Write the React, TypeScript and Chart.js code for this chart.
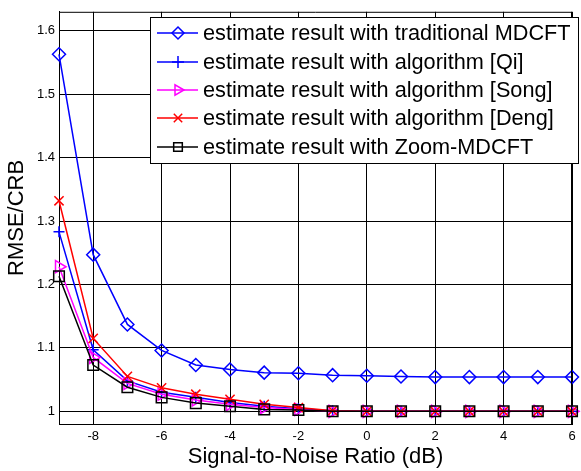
import React, { useEffect, useRef } from 'react';
import { Chart, registerables } from 'chart.js';

Chart.register(...registerables);

const snr = [-9, -8, -7, -6, -5, -4, -3, -2, -1, 0, 1, 2, 3, 4, 5, 6];
const traditional = [1.563, 1.247, 1.137, 1.096, 1.073, 1.066, 1.061, 1.06, 1.057, 1.056, 1.055, 1.054, 1.054, 1.054, 1.054, 1.054];
const qi = [1.283, 1.097, 1.048, 1.03, 1.022, 1.014, 1.008, 1.004, 1.001, 1.0, 1.0, 1.0, 1.0, 1.0, 1.0, 1.0];
const song = [1.228, 1.085, 1.044, 1.027, 1.018, 1.011, 1.006, 1.003, 1.0, 1.0, 1.0, 1.0, 1.0, 1.0, 1.0, 1.0];
const deng = [1.332, 1.115, 1.055, 1.037, 1.027, 1.019, 1.011, 1.006, 1.001, 1.0, 1.0, 1.0, 1.0, 1.0, 1.0, 1.0];
const zoomMdcft = [1.213, 1.073, 1.038, 1.022, 1.013, 1.008, 1.003, 1.002, 1.0, 1.0, 1.0, 1.0, 1.0, 1.0, 1.0, 1.0];

const xTicks = [-8, -6, -4, -2, 0, 2, 4, 6];
const yTicks = [1, 1.1, 1.2, 1.3, 1.4, 1.5, 1.6];

const seriesNames = [
  'estimate result with traditional MDCFT',
  'estimate result with algorithm [Qi]',
  'estimate result with algorithm [Song]',
  'estimate result with algorithm [Deng]',
  'estimate result with Zoom-MDCFT',
];
const seriesColors = ['#0000ff', '#0000ff', '#ff00ff', '#ff0000', '#000000'];
const seriesMarkers = ['diamond', 'plus', 'triangle', 'x', 'square'];

const FONT = 'Arial, "Liberation Sans", sans-serif';

function drawMarker(ctx: CanvasRenderingContext2D, kind: string, x: number, y: number, r: number) {
  ctx.beginPath();
  if (kind === 'diamond') {
    ctx.moveTo(x, y - r);
    ctx.lineTo(x + r, y);
    ctx.lineTo(x, y + r);
    ctx.lineTo(x - r, y);
    ctx.closePath();
  } else if (kind === 'plus') {
    ctx.moveTo(x - r, y);
    ctx.lineTo(x + r, y);
    ctx.moveTo(x, y - r);
    ctx.lineTo(x, y + r);
  } else if (kind === 'triangle') {
    ctx.moveTo(x + r, y);
    ctx.lineTo(x - r * 0.5, y - r * 0.87);
    ctx.lineTo(x - r * 0.5, y + r * 0.87);
    ctx.closePath();
  } else if (kind === 'x') {
    const d = r * 0.7;
    ctx.moveTo(x - d, y - d);
    ctx.lineTo(x + d, y + d);
    ctx.moveTo(x - d, y + d);
    ctx.lineTo(x + d, y - d);
  } else if (kind === 'square') {
    ctx.rect(x - r * 0.72, y - r * 0.72, r * 1.44, r * 1.44);
  }
  ctx.stroke();
}

const framePlugin = {
  id: 'frameAndLegend',
  afterDraw(chart: any) {
    const { ctx, chartArea } = chart;
    const { left, right, top, bottom } = chartArea;
    ctx.save();
    ctx.strokeStyle = '#000';
    ctx.lineWidth = 1;
    ctx.beginPath();
    ctx.moveTo(left, top + 0.5);
    ctx.lineTo(right, top + 0.5);
    ctx.moveTo(right - 0.5, top);
    ctx.lineTo(right - 0.5, bottom);
    ctx.stroke();

    // legend box
    const bx = 150.5, by = 17.5, bw = 428, bh = 146;
    ctx.fillStyle = '#fff';
    ctx.fillRect(bx, by, bw, bh);
    ctx.strokeRect(bx, by, bw, bh);
    const rowY = [33, 62, 90, 118, 147];
    ctx.font = `21.7px ${FONT}`;
    ctx.textBaseline = 'middle';
    ctx.textAlign = 'left';
    for (let i = 0; i < seriesNames.length; i++) {
      const y = rowY[i];
      ctx.strokeStyle = seriesColors[i];
      ctx.lineWidth = 1.5;
      ctx.beginPath();
      ctx.moveTo(157, y);
      ctx.lineTo(198, y);
      ctx.stroke();
      drawMarker(ctx, seriesMarkers[i], 178, y, 6);
      ctx.fillStyle = '#000';
      ctx.fillText(seriesNames[i], 203, y + 1);
    }
    ctx.restore();
  },
};

export default function App() {
  const ref = useRef<HTMLCanvasElement | null>(null);

  useEffect(() => {
    document.body.style.margin = '0';
    const canvas = ref.current;
    if (!canvas) return;
    const mk = (values: number[]) => snr.map((x, i) => ({ x, y: values[i] }));
    const common = {
      borderWidth: 1.5,
      pointBorderWidth: 1.5,
      backgroundColor: 'transparent',
      pointBackgroundColor: 'transparent',
      fill: false,
      tension: 0,
      clip: false as any,
    };
    const chart = new Chart(canvas, {
      type: 'line',
      data: {
        datasets: [
          { ...common, label: seriesNames[0], data: mk(traditional), borderColor: seriesColors[0], pointBorderColor: seriesColors[0], pointStyle: 'rectRot', pointRadius: 6.5, order: 5 },
          { ...common, label: seriesNames[1], data: mk(qi), borderColor: seriesColors[1], pointBorderColor: seriesColors[1], pointStyle: 'cross', pointRadius: 5.5, order: 4 },
          { ...common, label: seriesNames[2], data: mk(song), borderColor: seriesColors[2], pointBorderColor: seriesColors[2], pointStyle: 'triangle', pointRotation: 90, pointRadius: 7, order: 3 },
          { ...common, label: seriesNames[3], data: mk(deng), borderColor: seriesColors[3], pointBorderColor: seriesColors[3], pointStyle: 'crossRot', pointRadius: 6.5, order: 2 },
          { ...common, label: seriesNames[4], data: mk(zoomMdcft), borderColor: seriesColors[4], pointBorderColor: seriesColors[4], pointStyle: 'rect', pointRadius: 7.5, order: 1 },
        ] as any,
      },
      options: {
        responsive: false,
        animation: false,
        layout: { padding: { left: 0, top: 10, right: 3, bottom: 0 } },
        plugins: { legend: { display: false }, tooltip: { enabled: false } },
        scales: {
          x: {
            type: 'linear',
            min: -9,
            max: 6,
            afterBuildTicks: (s: any) => { s.ticks = xTicks.map((v) => ({ value: v })); },
            afterFit: (s: any) => { s.height = 47; },
            grid: { color: '#000', lineWidth: 1, drawTicks: false },
            border: { color: '#000', width: 1 },
            ticks: { color: '#000', font: { family: FONT, size: 13 }, padding: 5, maxRotation: 0, autoSkip: false, callback: (v: any) => String(v) },
            title: { display: true, text: 'Signal-to-Noise Ratio (dB)', color: '#000', font: { family: FONT, size: 22 }, padding: { top: 1, bottom: 1 } },
          },
          y: {
            type: 'linear',
            min: 0.98,
            max: 1.63,
            afterBuildTicks: (s: any) => { s.ticks = yTicks.map((v) => ({ value: v })); },
            afterFit: (s: any) => { s.width = 59; },
            grid: { color: '#000', lineWidth: 1, drawTicks: false },
            border: { color: '#000', width: 1 },
            ticks: { color: '#000', font: { family: FONT, size: 13 }, padding: 4, callback: (v: any) => String(Math.round(v * 10) / 10) },
            title: { display: true, text: 'RMSE/CRB', color: '#000', font: { family: FONT, size: 22 }, padding: { top: 4, bottom: 4 } },
          },
        },
      } as any,
      plugins: [framePlugin],
    });
    return () => chart.destroy();
  }, []);

  return (
    <div style={{ width: 581, height: 471 }}>
      <canvas ref={ref} width={581} height={471} style={{ display: 'block' }} />
    </div>
  );
}
